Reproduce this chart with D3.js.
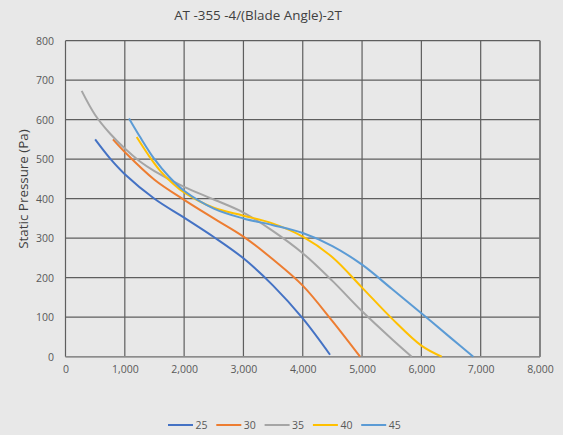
<!DOCTYPE html>
<html><head><meta charset="utf-8">
<script src="https://cdn.jsdelivr.net/npm/d3@7"></script>
<style>html,body{margin:0;padding:0;background:#e8e8e8;}svg{display:block;}</style>
</head><body>
<svg id="c" width="563" height="435"></svg>
<script>
const title = "AT -355 -4/(Blade Angle)-2T";
const yTitle = "Static Pressure (Pa)";
const seriesNames = ["25", "30", "35", "40", "45"];
const seriesColors = ["#4472c4", "#ed7d31", "#a5a5a5", "#ffc000", "#5b9bd5"];
const xTicks = [0, 1000, 2000, 3000, 4000, 5000, 6000, 7000, 8000];
const yTicks = [0, 100, 200, 300, 400, 500, 600, 700, 800];
const s25 = [[500,550],[750,502],[1000,462],[1500,400],[2000,352],[2500,303],[3000,249],[3500,180],[4000,97],[4460,5]];
const s30 = [[800,550],[1000,518],[1500,448],[2000,397],[2500,350],[3000,304],[3500,246],[4000,180],[4500,90],[4966,0]];
const s35 = [[273,673],[500,612],[750,565],[1000,527],[1250,495],[1500,470],[2000,430],[2500,398],[3000,365],[3500,318],[4000,262],[4500,192],[5000,115],[5500,45],[5837,0]];
const s40 = [[1200,556],[1400,510],[1600,470],[1800,440],[2000,416],[2500,377],[3000,357],[3500,337],[4000,304],[4500,252],[5000,175],[5500,97],[6000,28],[6343,0]];
const s45 = [[1071,603],[1250,558],[1500,500],[1750,455],[2000,420],[2500,375],[3000,350],[3500,333],[4000,313],[4500,280],[5000,233],[5500,172],[6000,110],[6500,47],[6876,0]];
const seriesData = [s25, s30, s35, s40, s45];

const svg = d3.select("#c");
const font = "'Open Sans', 'Liberation Sans', sans-serif";
const x = d3.scaleLinear().domain([0, 8000]).range([65.5, 540]);
const y = d3.scaleLinear().domain([0, 800]).range([356.7, 40.7]);

svg.append("rect").attr("width", 563).attr("height", 435).attr("fill", "#e8e8e8");

// grid
const g = svg.append("g");
g.selectAll("line.v").data(xTicks).join("line")
  .attr("x1", d => x(d)).attr("x2", d => x(d))
  .attr("y1", y(0)).attr("y2", y(800))
  .attr("stroke", "#5e5e5e").attr("stroke-width", 1.2);
g.selectAll("line.h").data(yTicks).join("line")
  .attr("x1", x(0)).attr("x2", x(8000))
  .attr("y1", d => y(d)).attr("y2", d => y(d))
  .attr("stroke", "#5e5e5e").attr("stroke-width", 1.2);
g.append("line").attr("x1", x(0)).attr("x2", x(8000)).attr("y1", y(0)).attr("y2", y(0))
  .attr("stroke", "#8c8c8c").attr("stroke-width", 1.6);
g.append("line").attr("x1", x(8000)).attr("x2", x(8000)).attr("y1", y(0)).attr("y2", y(800))
  .attr("stroke", "#7f7f7f").attr("stroke-width", 1.6);

// axes
const xAxis = d3.axisBottom(x).tickValues(xTicks).tickFormat(d3.format(",")).tickSize(0).tickPadding(9);
const yAxis = d3.axisLeft(y).tickValues(yTicks).tickSize(0).tickPadding(11.5);
const xa = svg.append("g").attr("transform", `translate(0,${y(0)})`).call(xAxis);
const ya = svg.append("g").attr("transform", `translate(${x(0)},0)`).call(yAxis);
[xa, ya].forEach(a => {
  a.select(".domain").remove();
  a.selectAll("text").attr("fill", "#595959").style("font-family", font).style("font-size", "10.5px");
});

// lines
const line = d3.line().x(d => x(d[0])).y(d => y(d[1])).curve(d3.curveCatmullRom.alpha(0.5));
svg.append("g").selectAll("path").data(seriesData).join("path")
  .attr("d", line).attr("fill", "none")
  .attr("stroke", (d, i) => seriesColors[i]).attr("stroke-width", 2);

// title
svg.append("text").attr("x", 258).attr("y", 20).attr("text-anchor", "middle")
  .attr("fill", "#404040").style("font-family", font).style("font-size", "13.4px").text(title);
svg.append("text").attr("transform", "translate(28,189) rotate(-90)").attr("text-anchor", "middle")
  .attr("fill", "#404040").style("font-family", font).style("font-size", "13.4px").text(yTitle);

// legend
const lg = svg.append("g").selectAll("g").data(seriesNames).join("g")
  .attr("transform", (d, i) => `translate(${168 + i * 48.3},425)`);
lg.append("line").attr("x1", 0).attr("x2", 25).attr("y1", 0).attr("y2", 0)
  .attr("stroke", (d, i) => seriesColors[i]).attr("stroke-width", 2);
lg.append("text").attr("x", 27.5).attr("y", 3.8).attr("fill", "#595959")
  .style("font-family", font).style("font-size", "10.5px").text(d => d);
</script>
</body></html>
